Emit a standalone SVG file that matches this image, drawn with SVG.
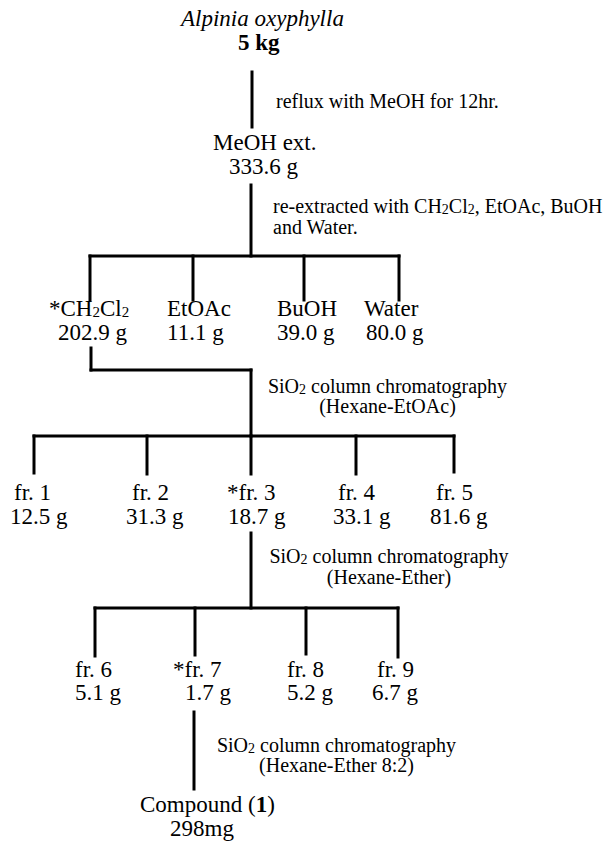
<svg xmlns="http://www.w3.org/2000/svg" width="605" height="842" viewBox="0 0 605 842">
<style>
text{font-family:"Liberation Serif","Times New Roman",serif;fill:#000}
.n{font-size:23px}
.a{font-size:20px}
.sub{font-size:15px}
.asub{font-size:14px}
.c line{stroke:#000;stroke-width:3;stroke-linecap:square}
</style>
<rect width="605" height="842" fill="#fff"/>
<g class="c" id="connectors">
<line x1="252" y1="72" x2="252" y2="127"/>
<line x1="251" y1="185" x2="251" y2="256"/>
<line x1="90" y1="256" x2="399" y2="256"/>
<line x1="90" y1="256" x2="90" y2="300"/>
<line x1="193" y1="256" x2="193" y2="300"/>
<line x1="304" y1="256" x2="304" y2="300"/>
<line x1="399" y1="256" x2="399" y2="300"/>
<line x1="91" y1="348" x2="91" y2="370"/>
<line x1="91" y1="370" x2="251" y2="370"/>
<line x1="251" y1="370" x2="251" y2="436"/>
<line x1="34" y1="436" x2="454" y2="436"/>
<line x1="34" y1="436" x2="34" y2="473"/>
<line x1="147" y1="436" x2="147" y2="474"/>
<line x1="251" y1="436" x2="251" y2="474"/>
<line x1="356" y1="436" x2="356" y2="474"/>
<line x1="454" y1="436" x2="454" y2="472"/>
<line x1="251" y1="533" x2="251" y2="608"/>
<line x1="95" y1="608" x2="398" y2="608"/>
<line x1="95" y1="608" x2="95" y2="656"/>
<line x1="195" y1="608" x2="195" y2="655"/>
<line x1="306" y1="608" x2="306" y2="654"/>
<line x1="398" y1="608" x2="398" y2="657"/>
<line x1="194" y1="712" x2="194" y2="789"/>
</g>
<g id="edge-labels">
<text class="a" x="276" y="108">reflux with MeOH for 12hr.</text>
<text class="a" x="273" y="213">re-extracted with CH<tspan class="asub" dy="1">2</tspan><tspan dy="-1">Cl</tspan><tspan class="asub" dy="1">2</tspan><tspan dy="-1">, EtOAc, BuOH</tspan></text>
<text class="a" x="273" y="234">and Water.</text>
<text class="a" x="387.5" y="393" text-anchor="middle">SiO<tspan class="asub" dy="1">2</tspan><tspan dy="-1"> column chromatography</tspan></text>
<text class="a" x="387.5" y="413" text-anchor="middle">(Hexane-EtOAc)</text>
<text class="a" x="389" y="563" text-anchor="middle">SiO<tspan class="asub" dy="1">2</tspan><tspan dy="-1"> column chromatography</tspan></text>
<text class="a" x="389" y="584" text-anchor="middle">(Hexane-Ether)</text>
<text class="a" x="336.5" y="752" text-anchor="middle">SiO<tspan class="asub" dy="1">2</tspan><tspan dy="-1"> column chromatography</tspan></text>
<text class="a" x="336.5" y="772" text-anchor="middle">(Hexane-Ether 8:2)</text>
</g>
<g id="n-alpinia">
<text class="n" x="181" y="26" font-style="italic">Alpinia oxyphylla</text>
<text class="n" x="238" y="50" font-weight="bold">5 kg</text>
</g>
<g id="n-meoh">
<text class="n" x="213" y="150">MeOH ext.</text>
<text class="n" x="229" y="174">333.6 g</text>
</g>
<g id="n-ch2cl2">
<text class="n" x="49" y="316">*CH<tspan class="sub" dy="1">2</tspan><tspan dy="-1">Cl</tspan><tspan class="sub" dy="1">2</tspan></text>
<text class="n" x="58" y="340">202.9 g</text>
</g>
<g id="n-etoac">
<text class="n" x="167" y="316">EtOAc</text>
<text class="n" x="167" y="340">11.1 g</text>
</g>
<g id="n-buoh">
<text class="n" x="277" y="316">BuOH</text>
<text class="n" x="277" y="340">39.0 g</text>
</g>
<g id="n-water">
<text class="n" x="364" y="316">Water</text>
<text class="n" x="366" y="340">80.0 g</text>
</g>
<g id="n-fr1">
<text class="n" x="14" y="500">fr. 1</text>
<text class="n" x="10" y="524">12.5 g</text>
</g>
<g id="n-fr2">
<text class="n" x="132" y="500">fr. 2</text>
<text class="n" x="126" y="524">31.3 g</text>
</g>
<g id="n-fr3">
<text class="n" x="227" y="500">*fr. 3</text>
<text class="n" x="228" y="524">18.7 g</text>
</g>
<g id="n-fr4">
<text class="n" x="338" y="500">fr. 4</text>
<text class="n" x="333" y="524">33.1 g</text>
</g>
<g id="n-fr5">
<text class="n" x="436" y="500">fr. 5</text>
<text class="n" x="430" y="524">81.6 g</text>
</g>
<g id="n-fr6">
<text class="n" x="75" y="677">fr. 6</text>
<text class="n" x="75" y="700">5.1 g</text>
</g>
<g id="n-fr7">
<text class="n" x="173" y="677">*fr. 7</text>
<text class="n" x="185" y="700">1.7 g</text>
</g>
<g id="n-fr8">
<text class="n" x="287" y="677">fr. 8</text>
<text class="n" x="287" y="700">5.2 g</text>
</g>
<g id="n-fr9">
<text class="n" x="377" y="677">fr. 9</text>
<text class="n" x="372" y="700">6.7 g</text>
</g>
<g id="n-compound">
<text class="n" x="140" y="812">Compound (<tspan font-weight="bold">1</tspan>)</text>
<text class="n" x="170" y="836">298mg</text>
</g>
</svg>
